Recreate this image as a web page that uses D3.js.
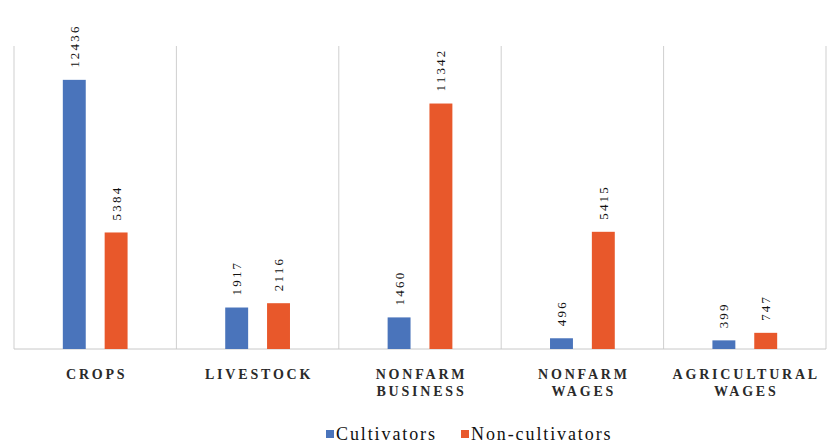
<!DOCTYPE html>
<html><head><meta charset="utf-8">
<script src="https://cdn.jsdelivr.net/npm/d3@7/dist/d3.min.js"></script>
<style>body{margin:0;background:#fff} text{font-family:"Liberation Serif","DejaVu Serif",Times,serif}</style>
</head><body>
<svg id="c" width="827" height="443"></svg>
<script>
const categories = [["CROPS"],["LIVESTOCK"],["NONFARM","BUSINESS"],["NONFARM","WAGES"],["AGRICULTURAL","WAGES"]];
const series = ["Cultivators","Non-cultivators"];
const cultivators = [12436,1917,1460,496,399];
const nonCultivators = [5384,2116,11342,5415,747];
const colors = ["#4a74bb","#e8582b"];

(function(){
const svg = d3.select("#c");
const mLeft = 14, mRight = 826, mTop = 46, mBottom = 349;
const keys = categories.map(c => c.join(" "));
const x = d3.scaleBand().domain(keys).range([mLeft, mRight]);
const xs = d3.scaleBand().domain(series).range([0, x.bandwidth()]).paddingInner(0.452).paddingOuter(1.167);
const y = d3.scaleLinear().domain([0,14000]).range([mBottom, mTop]);

const bounds = keys.map(k => x(k)).concat([mRight]);
svg.append("g").selectAll("line").data(bounds).join("line")
  .attr("x1", d => d).attr("x2", d => d).attr("y1", mTop).attr("y2", mBottom)
  .attr("stroke", "#cfcfcf").attr("stroke-width", 1);
svg.append("line").attr("x1", mLeft).attr("x2", mRight).attr("y1", mBottom).attr("y2", mBottom)
  .attr("stroke", "#c8c8c8").attr("stroke-width", 1);

const data = [];
keys.forEach((k,i) => {
  data.push({k, s: series[0], v: cultivators[i], c: colors[0]});
  data.push({k, s: series[1], v: nonCultivators[i], c: colors[1]});
});

svg.append("g").selectAll("rect").data(data).join("rect")
  .attr("x", d => x(d.k) + xs(d.s)).attr("width", xs.bandwidth())
  .attr("y", d => y(d.v)).attr("height", d => mBottom - y(d.v))
  .attr("fill", d => d.c);

svg.append("g").selectAll("text").data(data).join("text")
  .attr("transform", d => `translate(${x(d.k) + xs(d.s) + xs.bandwidth()/2 + 4.5},${y(d.v) - 12}) rotate(-90)`)
  .attr("font-size", 13)
  .attr("letter-spacing", 2.2).attr("fill", "#111")
  .text(d => d.v);

const cl = svg.append("g");
categories.forEach((lines, i) => {
  const cx = x(keys[i]) + x.bandwidth()/2 + 1.5;
  const t = cl.append("text")
    .attr("x", cx).attr("y", 379)
    .attr("text-anchor", "middle")
    .attr("font-weight", "bold")
    .attr("font-size", 14).attr("letter-spacing", 2.8).attr("fill", "#2a2a2a");
  lines.forEach((ln, j) => {
    t.append("tspan").attr("x", cx).attr("dy", j === 0 ? 0 : 17).text(ln);
  });
});

const lg = svg.append("g");
const legendX = [326, 461];
series.forEach((s, i) => {
  lg.append("rect").attr("x", legendX[i]).attr("y", 430).attr("width", 8).attr("height", 8).attr("fill", colors[i]);
  lg.append("text").attr("x", legendX[i] + 10).attr("y", 440)
    .attr("font-size", 18)
    .attr("letter-spacing", 1.9).attr("fill", "#111").text(s);
});
})();
</script>
</body></html>
